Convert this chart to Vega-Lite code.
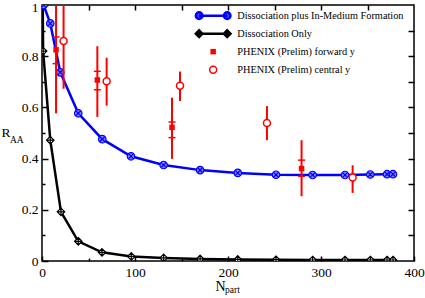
{
  "$schema": "https://vega.github.io/schema/vega-lite/v6.json",
  "width": 372,
  "height": 256,
  "autosize": {"type": "none"},
  "padding": {"left": 42, "top": 5, "right": 11, "bottom": 37},
  "background": "white",
  "config": {
    "font": "Liberation Serif",
    "view": {"stroke": "black", "strokeWidth": 1.5},
    "axis": {
      "domain": false, "grid": false, "tickColor": "black", "tickWidth": 1.5,
      "labelColor": "black", "labelFont": "Liberation Serif", "labelFontSize": 13.5,
      "titleFont": "Liberation Serif", "titleFontWeight": "normal", "titleColor": "black",
      "labelFlush": false, "labelOverlap": false, "labelBound": false
    }
  },
  "datasets": {
    "model": [
      {"series": "Dissociation plus In-Medium Formation", "npart": 1.7, "raa": 1.0},
      {"series": "Dissociation plus In-Medium Formation", "npart": 8.9, "raa": 0.928},
      {"series": "Dissociation plus In-Medium Formation", "npart": 19.7, "raa": 0.737},
      {"series": "Dissociation plus In-Medium Formation", "npart": 39, "raa": 0.577},
      {"series": "Dissociation plus In-Medium Formation", "npart": 64.8, "raa": 0.476},
      {"series": "Dissociation plus In-Medium Formation", "npart": 95.7, "raa": 0.409},
      {"series": "Dissociation plus In-Medium Formation", "npart": 130.8, "raa": 0.375},
      {"series": "Dissociation plus In-Medium Formation", "npart": 170, "raa": 0.355},
      {"series": "Dissociation plus In-Medium Formation", "npart": 210.5, "raa": 0.344},
      {"series": "Dissociation plus In-Medium Formation", "npart": 251.6, "raa": 0.337},
      {"series": "Dissociation plus In-Medium Formation", "npart": 291, "raa": 0.336},
      {"series": "Dissociation plus In-Medium Formation", "npart": 325.8, "raa": 0.336},
      {"series": "Dissociation plus In-Medium Formation", "npart": 353, "raa": 0.338},
      {"series": "Dissociation plus In-Medium Formation", "npart": 371, "raa": 0.339},
      {"series": "Dissociation plus In-Medium Formation", "npart": 377.4, "raa": 0.339},
      {"series": "Dissociation Only", "npart": 0.8, "raa": 1.0},
      {"series": "Dissociation Only", "npart": 1.2, "raa": 0.82},
      {"series": "Dissociation Only", "npart": 8.9, "raa": 0.472},
      {"series": "Dissociation Only", "npart": 20.4, "raa": 0.192},
      {"series": "Dissociation Only", "npart": 39, "raa": 0.077},
      {"series": "Dissociation Only", "npart": 64.5, "raa": 0.034},
      {"series": "Dissociation Only", "npart": 96, "raa": 0.018},
      {"series": "Dissociation Only", "npart": 130.8, "raa": 0.012},
      {"series": "Dissociation Only", "npart": 170, "raa": 0.008},
      {"series": "Dissociation Only", "npart": 210.5, "raa": 0.006},
      {"series": "Dissociation Only", "npart": 251.6, "raa": 0.005},
      {"series": "Dissociation Only", "npart": 291, "raa": 0.004},
      {"series": "Dissociation Only", "npart": 325.8, "raa": 0.004},
      {"series": "Dissociation Only", "npart": 353, "raa": 0.004},
      {"series": "Dissociation Only", "npart": 371, "raa": 0.004},
      {"series": "Dissociation Only", "npart": 377.4, "raa": 0.004}
    ],
    "phenix": [
      {"series": "PHENIX (Prelim) forward y", "npart": 15.1, "raa": 0.825, "lo": 0.577, "hi": 1.1, "slo": 0.771, "shi": 0.875},
      {"series": "PHENIX (Prelim) forward y", "npart": 59.5, "raa": 0.707, "lo": 0.563, "hi": 0.839, "slo": 0.669, "shi": 0.741},
      {"series": "PHENIX (Prelim) forward y", "npart": 139.8, "raa": 0.522, "lo": 0.399, "hi": 0.638, "slo": 0.482, "shi": 0.543},
      {"series": "PHENIX (Prelim) forward y", "npart": 279.1, "raa": 0.361, "lo": 0.253, "hi": 0.472, "slo": 0.331, "shi": 0.394},
      {"series": "PHENIX (Prelim) central y", "npart": 23.2, "raa": 0.859, "lo": 0.673, "hi": 1.1},
      {"series": "PHENIX (Prelim) central y", "npart": 69.5, "raa": 0.702, "lo": 0.607, "hi": 0.794},
      {"series": "PHENIX (Prelim) central y", "npart": 148.4, "raa": 0.685, "lo": 0.625, "hi": 0.74},
      {"series": "PHENIX (Prelim) central y", "npart": 241.9, "raa": 0.539, "lo": 0.472, "hi": 0.605},
      {"series": "PHENIX (Prelim) central y", "npart": 334, "raa": 0.326, "lo": 0.266, "hi": 0.374}
    ]
  },
  "resolve": {"axis": {"x": "independent", "y": "independent"}},
  "layer": [
    {
      "data": {"name": "model"},
      "mark": {"type": "line", "strokeWidth": 2.5, "clip": true},
      "encoding": {
        "x": {
          "field": "npart", "type": "quantitative",
          "scale": {"domain": [0, 400], "nice": false, "zero": false},
          "axis": {
            "orient": "bottom",
            "values": [0, 50, 100, 150, 200, 250, 300, 350, 400],
            "tickSize": {"condition": {"test": "datum.value % 100 === 0", "value": -5}, "value": -3},
            "labelExpr": "datum.value % 100 === 0 ? datum.label : ''",
            "labelPadding": 9,
            "title": "N", "titleFontSize": 14, "titleAlign": "left", "titleBaseline": "alphabetic",
            "titleX": 173, "titleY": 29
          }
        },
        "y": {
          "field": "raa", "type": "quantitative",
          "scale": {"domain": [0, 1], "nice": false},
          "axis": {
            "orient": "left",
            "values": [0, 0.1, 0.2, 0.3, 0.4, 0.5, 0.6, 0.7, 0.8, 0.9, 1],
            "tickSize": {"condition": {"test": "round(datum.value*10) % 2 === 0", "value": -6}, "value": -3},
            "labelExpr": "round(datum.value*10) % 2 === 0 ? format(datum.value, '~g') : ''",
            "labelOffset": {"condition": {"test": "datum.value === 1", "value": 2}, "value": 0},
            "labelPadding": 10,
            "title": "R", "titleFontSize": 13.5, "titleAngle": 0, "titleAlign": "left", "titleBaseline": "alphabetic",
            "titleX": -41, "titleY": 131.7
          }
        },
        "color": {
          "field": "series", "type": "nominal",
          "scale": {
            "domain": ["Dissociation plus In-Medium Formation", "Dissociation Only", "PHENIX (Prelim) forward y", "PHENIX (Prelim) central y"],
            "range": ["#0000ff", "#000000", "#ff0000", "#ff0000"]
          },
          "legend": {
            "orient": "none", "legendX": 166, "legendY": 5.5, "title": null,
            "symbolSize": 100, "symbolStrokeWidth": 2, "labelFontSize": 10.3, "labelFont": "Liberation Serif",
            "labelColor": "black", "labelOffset": 19, "rowPadding": 0, "gridAlign": "all", "padding": 0, "labelLimit": 400,
            "encode": {
              "symbols": {
                "update": {
                  "shape": {"signal": "datum.value === 'Dissociation plus In-Medium Formation' ? 'M-0.85,0L0.85,0M-0.65,0A0.2,0.2,0,1,1,-1.05,0A0.2,0.2,0,1,1,-0.65,0M1.05,0A0.2,0.2,0,1,1,0.65,0A0.2,0.2,0,1,1,1.05,0' : datum.value === 'Dissociation Only' ? 'M-0.85,0L0.85,0M-0.85,-0.2L-0.65,0L-0.85,0.2L-1.05,0ZM-0.85,-0.2L-0.85,0.2M0.85,-0.2L1.05,0L0.85,0.2L0.65,0ZM0.85,-0.2L0.85,0.2' : datum.value === 'PHENIX (Prelim) forward y' ? 'square' : 'circle'"},
                  "size": {"signal": "datum.value === 'PHENIX (Prelim) forward y' ? 30 : datum.value === 'PHENIX (Prelim) central y' ? 49 : 1089"},
                  "fill": {"signal": "datum.value === 'PHENIX (Prelim) forward y' ? '#ff0000' : datum.value === 'Dissociation plus In-Medium Formation' ? '#4040ff' : '#ffffff'"},
                  "stroke": {"signal": "datum.value === 'Dissociation plus In-Medium Formation' ? '#0000ff' : datum.value === 'Dissociation Only' ? '#000000' : '#ff0000'"},
                  "strokeWidth": {"signal": "datum.value === 'PHENIX (Prelim) forward y' ? 0 : datum.value === 'PHENIX (Prelim) central y' ? 1.5 : 2.5"},
                  "opacity": {"value": 1}
                }
              }
            }
          }
        }
      }
    },
    {
      "data": {"name": "model"},
      "transform": [{"filter": "datum.series === 'Dissociation Only'"}],
      "mark": {"type": "point", "shape": "M0,-1L1,0L0,1L-1,0ZM0,-1L0,1M-1,0L1,0", "size": 56, "filled": true, "fill": "#ffffff", "stroke": "#000000", "strokeWidth": 1.2, "opacity": 1, "clip": true},
      "encoding": {
        "x": {"field": "npart", "type": "quantitative", "scale": {"domain": [0, 400], "nice": false, "zero": false},
          "axis": {"orient": "top", "values": [50, 100, 150, 200, 250, 300, 350], "tickSize": -5, "labels": false,
            "title": "part", "titleFontSize": 9.5, "titleAlign": "left", "titleBaseline": "alphabetic", "titleX": 182.5, "titleY": 287.6}},
        "y": {"field": "raa", "type": "quantitative", "scale": {"domain": [0, 1], "nice": false},
          "axis": {"orient": "right", "values": [0.1, 0.2, 0.3, 0.4, 0.5, 0.6, 0.7, 0.8, 0.9], "tickSize": -6, "labels": false,
            "title": "AA", "titleFontSize": 9.5, "titleAngle": 0, "titleAlign": "left", "titleBaseline": "alphabetic", "titleX": -404.5, "titleY": 137.7}}
      }
    },
    {
      "data": {"name": "model"},
      "transform": [{"filter": "datum.series === 'Dissociation plus In-Medium Formation'"}],
      "mark": {"type": "point", "shape": "M1,0A1,1,0,1,1,-1,0A1,1,0,1,1,1,0M-0.7,-0.7L0.7,0.7M-0.7,0.7L0.7,-0.7", "size": 56, "filled": true, "fill": "#7f7fff", "stroke": "#0000ff", "strokeWidth": 1.2, "opacity": 1, "clip": true},
      "encoding": {
        "x": {"field": "npart", "type": "quantitative", "scale": {"domain": [0, 400], "nice": false, "zero": false}, "axis": null},
        "y": {"field": "raa", "type": "quantitative", "scale": {"domain": [0, 1], "nice": false}, "axis": null}
      }
    },
    {
      "data": {"name": "phenix"},
      "mark": {"type": "rule", "strokeWidth": 2, "color": "#ff0000", "clip": true},
      "encoding": {
        "x": {"field": "npart", "type": "quantitative", "scale": {"domain": [0, 400], "nice": false, "zero": false}, "axis": null},
        "y": {"field": "lo", "type": "quantitative", "scale": {"domain": [0, 1], "nice": false}, "axis": null},
        "y2": {"field": "hi"}
      }
    },
    {
      "data": {"name": "phenix"},
      "transform": [{"filter": "datum.slo != null"}],
      "mark": {"type": "tick", "orient": "horizontal", "size": 7, "thickness": 1.5, "color": "#ff0000", "opacity": 1, "clip": true},
      "encoding": {
        "x": {"field": "npart", "type": "quantitative", "scale": {"domain": [0, 400], "nice": false, "zero": false}, "axis": null},
        "y": {"field": "slo", "type": "quantitative", "scale": {"domain": [0, 1], "nice": false}, "axis": null}
      }
    },
    {
      "data": {"name": "phenix"},
      "transform": [{"filter": "datum.shi != null"}],
      "mark": {"type": "tick", "orient": "horizontal", "size": 7, "thickness": 1.5, "color": "#ff0000", "opacity": 1, "clip": true},
      "encoding": {
        "x": {"field": "npart", "type": "quantitative", "scale": {"domain": [0, 400], "nice": false, "zero": false}, "axis": null},
        "y": {"field": "shi", "type": "quantitative", "scale": {"domain": [0, 1], "nice": false}, "axis": null}
      }
    },
    {
      "data": {"name": "phenix"},
      "transform": [{"filter": "datum.series === 'PHENIX (Prelim) forward y'"}],
      "mark": {"type": "point", "shape": "square", "size": 30, "filled": true, "color": "#ff0000", "opacity": 1, "clip": true},
      "encoding": {
        "x": {"field": "npart", "type": "quantitative", "scale": {"domain": [0, 400], "nice": false, "zero": false}, "axis": null},
        "y": {"field": "raa", "type": "quantitative", "scale": {"domain": [0, 1], "nice": false}, "axis": null}
      }
    },
    {
      "data": {"name": "phenix"},
      "transform": [{"filter": "datum.series === 'PHENIX (Prelim) central y'"}],
      "mark": {"type": "point", "shape": "circle", "size": 49, "filled": true, "fill": "#ffffff", "stroke": "#ff0000", "strokeWidth": 1.5, "opacity": 1, "clip": true},
      "encoding": {
        "x": {"field": "npart", "type": "quantitative", "scale": {"domain": [0, 400], "nice": false, "zero": false}, "axis": null},
        "y": {"field": "raa", "type": "quantitative", "scale": {"domain": [0, 1], "nice": false}, "axis": null}
      }
    }
  ]
}
